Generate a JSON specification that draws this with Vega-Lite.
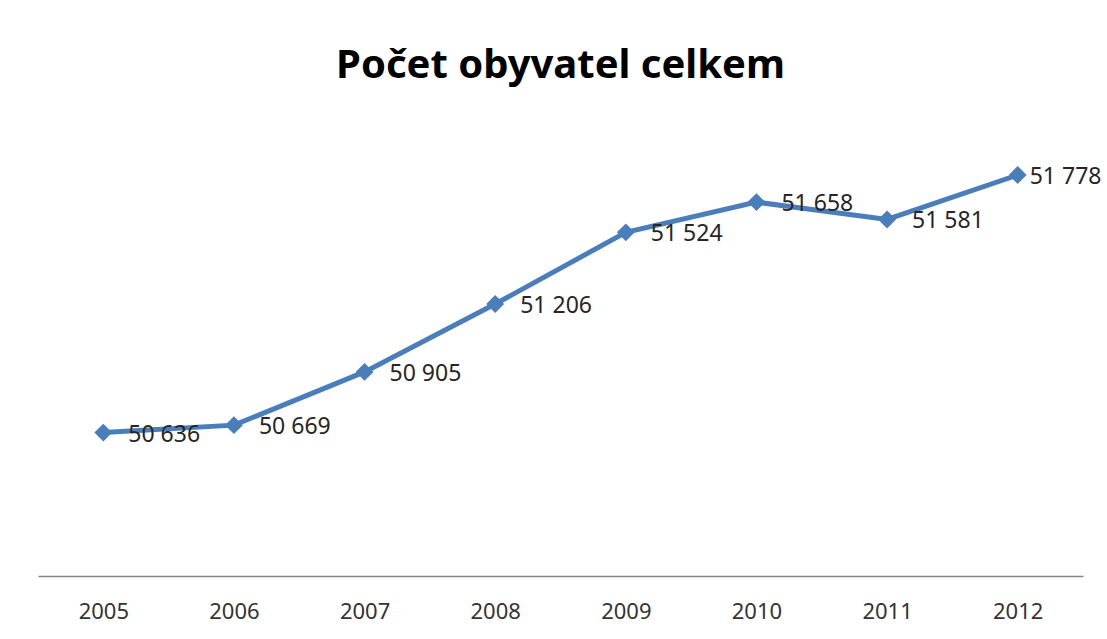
{
  "$schema": "https://vega.github.io/schema/vega-lite/v6.json",
  "width": 1045,
  "height": 451,
  "autosize": {"type": "none"},
  "padding": {"left": 38, "top": 125, "right": 24, "bottom": 63},
  "background": "#ffffff",
  "config": {
    "view": {"stroke": null},
    "font": "Noto Sans",
    "locale": {"number": {"decimal": ",", "thousands": " ", "grouping": [3], "currency": ["", " Kč"]}}
  },
  "title": {
    "text": "Počet obyvatel celkem",
    "font": "Noto Sans",
    "fontSize": 40,
    "fontWeight": "bold",
    "color": "#000000",
    "anchor": "middle",
    "baseline": "alphabetic",
    "offset": 7
  },
  "data": {
    "values": [
      {"rok": "2005", "obyvatel": 50636},
      {"rok": "2006", "obyvatel": 50669},
      {"rok": "2007", "obyvatel": 50905},
      {"rok": "2008", "obyvatel": 51206},
      {"rok": "2009", "obyvatel": 51524},
      {"rok": "2010", "obyvatel": 51658},
      {"rok": "2011", "obyvatel": 51581},
      {"rok": "2012", "obyvatel": 51778}
    ]
  },
  "encoding": {
    "x": {
      "field": "rok",
      "type": "ordinal",
      "scale": {"type": "point", "padding": 0.5},
      "axis": {
        "title": null,
        "labelAngle": 0,
        "ticks": false,
        "domainColor": "#868686",
        "domainWidth": 1.5,
        "labelFont": "Noto Sans",
        "labelFontSize": 22,
        "labelColor": "#333333",
        "labelPadding": 25
      }
    },
    "y": {
      "field": "obyvatel",
      "type": "quantitative",
      "scale": {"domain": [50000, 52000], "zero": false, "nice": false},
      "axis": null
    }
  },
  "layer": [
    {
      "mark": {"type": "line", "color": "#4A7EBB", "strokeWidth": 5}
    },
    {
      "mark": {"type": "point", "shape": "diamond", "filled": true, "size": 320, "color": "#4A7EBB", "opacity": 1}
    },
    {
      "transform": [{"filter": "datum.rok != '2012'"}],
      "mark": {"type": "text", "align": "left", "baseline": "middle", "dx": 25, "dy": 2, "fontSize": 23, "color": "#262626"},
      "encoding": {"text": {"field": "obyvatel", "type": "quantitative", "format": ",d"}}
    },
    {
      "transform": [{"filter": "datum.rok == '2012'"}],
      "mark": {"type": "text", "align": "left", "baseline": "middle", "dx": 12, "dy": 2, "fontSize": 23, "color": "#262626"},
      "encoding": {"text": {"field": "obyvatel", "type": "quantitative", "format": ",d"}}
    }
  ]
}
